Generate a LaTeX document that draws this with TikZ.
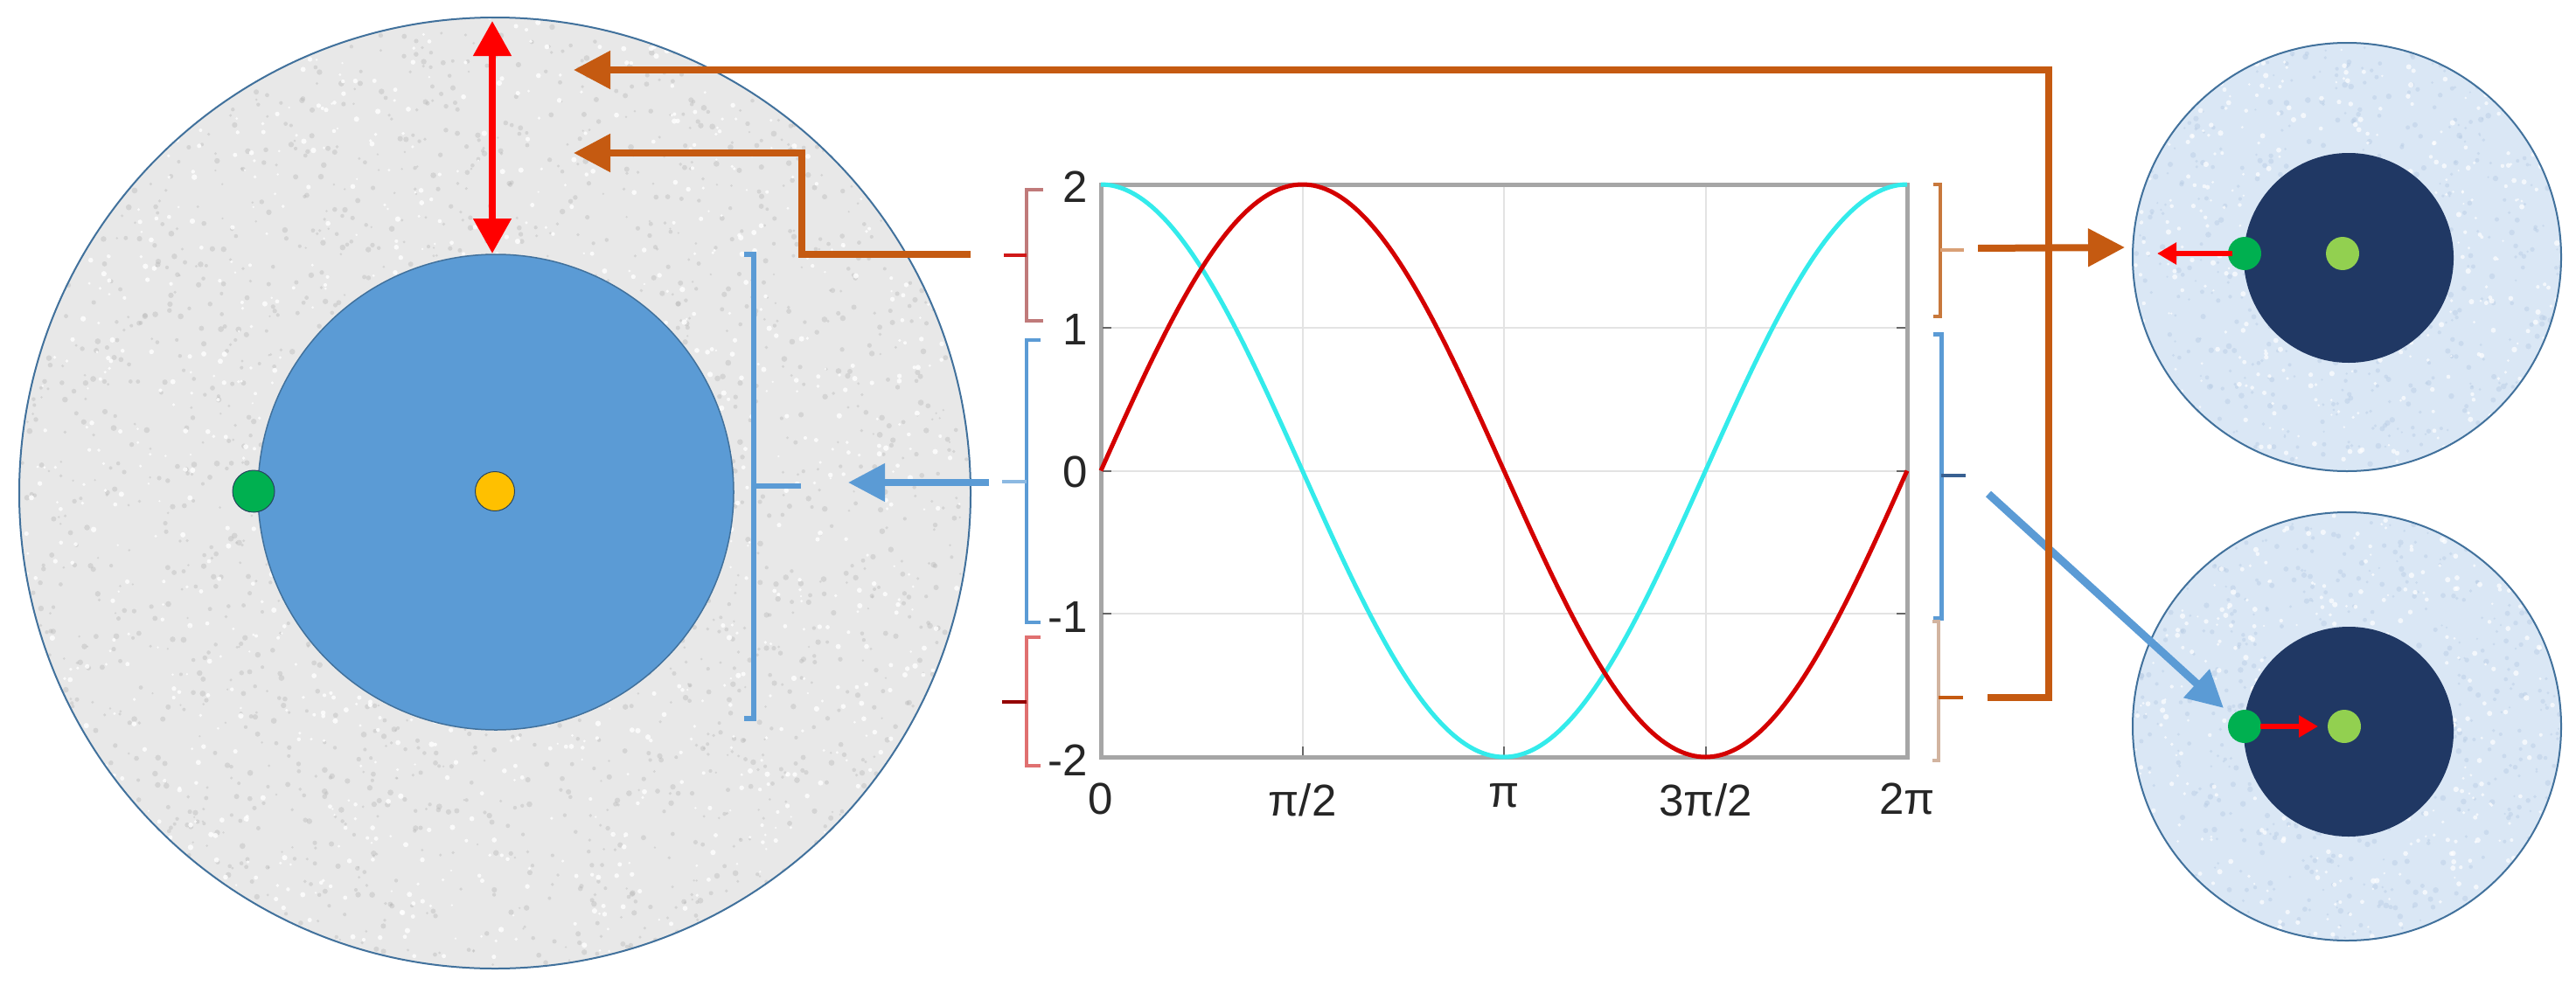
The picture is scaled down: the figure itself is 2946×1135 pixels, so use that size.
\documentclass[tikz,border=0pt]{standalone}
\usepackage{fontspec}
\setmainfont{Liberation Sans}
\usetikzlibrary{arrows.meta}
\definecolor{rimblue}{HTML}{41719C}
\definecolor{fillblue}{HTML}{5B9BD5}
\definecolor{granite}{HTML}{E8E8E8}
\definecolor{speck}{HTML}{B8B8B8}
\definecolor{iceblue}{HTML}{DAE7F5}
\definecolor{icespeck}{HTML}{B7CCE4}
\definecolor{navy}{HTML}{203864}
\definecolor{dotgreen}{HTML}{00B050}
\definecolor{litegreen}{HTML}{92D050}
\definecolor{dotyellow}{HTML}{FFC000}
\definecolor{orangeC}{HTML}{C55A11}
\definecolor{arrowred}{HTML}{FF0000}
\definecolor{plotred}{HTML}{D40000}
\definecolor{plotcyan}{HTML}{33EBEB}
\definecolor{framegray}{HTML}{A6A6A6}
\definecolor{gridgray}{HTML}{E3E3E3}
\definecolor{labelgray}{HTML}{262626}
\definecolor{brRedA}{HTML}{C07A7A}
\definecolor{brRedB}{HTML}{E07070}
\definecolor{brOrange}{HTML}{C8783C}
\definecolor{brTan}{HTML}{D2B4A0}
\begin{document}
\begin{tikzpicture}[x=1pt,y=-1pt,
  disk/.style={circle, inner sep=0pt, outer sep=0pt},
  fatarrow/.style={line width=8pt, -{Triangle[length=42pt,width=42pt]}},
  thinarrow/.style={line width=6pt, draw=arrowred, -{Triangle[length=22pt,width=24pt]}},
  brk/.style={line width=4pt},
  ticklab/.style={font=\fontsize{51}{60}\selectfont, text=labelgray, inner sep=0pt}]
\useasboundingbox (0,0) rectangle (2946,1135);
\pgfmathsetseed{7}

% ---------- left disk ----------
\node[disk, minimum size=1088pt, fill=granite] (bigdisk) at (566,564) {};
\begin{scope}
  \clip (566,564) circle[radius=544];
  \foreach \i in {1,...,2600}
    \fill[speck, opacity=0.4] ({566+544*rand},{564+544*rand}) circle[radius={1.2+2.2*rnd}];
  \foreach \i in {1,...,1400}
    \fill[white, opacity=0.8] ({566+544*rand},{564+544*rand}) circle[radius={1.2+2*rnd}];
\end{scope}
\draw[rimblue, line width=2pt] (566,564) circle[radius=544];
\node[disk, minimum size=544pt, fill=fillblue, draw=rimblue, line width=1.5pt] (core) at (567,563) {};
\node[disk, minimum size=48pt, fill=dotgreen, draw=rimblue!60!black, line width=1pt] (gdot) at (290,562) {};
\node[disk, minimum size=45pt, fill=dotyellow, draw=rimblue!60!black, line width=1pt] (ydot) at (566,562) {};
\coordinate (rtop) at (563,24);
\coordinate (rbot) at (563,290);
\draw[line width=8pt, draw=arrowred, {Triangle[length=40pt,width=42pt]}-{Triangle[length=40pt,width=42pt]}] (rtop) -- (rbot);

% bracket on the disk
\draw[line width=6pt, draw=fillblue] (851,291) -- (862,291) -- (862,822) -- (851,822);
\coordinate (dbmid) at (862,556);
\coordinate (dbtip) at (916,556);
\draw[line width=6pt, draw=fillblue] (dbmid) -- (dbtip);

% ---------- plot ----------
\foreach \xx in {1489.5,1720,1950.5}
  \draw[gridgray, line width=2pt] (\xx,211) -- (\xx,866);
\foreach \yy in {375,538.5,702}
  \draw[gridgray, line width=2pt] (1259,\yy) -- (2181,\yy);
\draw[framegray, line width=5pt] (1259,211) rectangle (2181,866);
\foreach \yy in {375,538.5,702} {
  \draw[labelgray!70, line width=2pt] (1261,\yy) -- (1271,\yy);
  \draw[labelgray!70, line width=2pt] (2179,\yy) -- (2169,\yy);
}
\foreach \xx in {1489.5,1720,1950.5}
  \draw[labelgray!70, line width=2pt] (\xx,864) -- (\xx,854);
\draw[plotcyan, line width=5pt, domain=0:360, samples=145, smooth, variable=\t]
  plot ({1259+\t*2.56111},{538.5-327.5*cos(\t)});
\draw[plotred, line width=5pt, domain=0:360, samples=145, smooth, variable=\t]
  plot ({1259+\t*2.56111},{538.5-327.5*sin(\t)});

\node[ticklab, anchor=east] (ly2) at (1244,214) {2};
\node[ticklab, anchor=east] (ly1) at (1244,377) {1};
\node[ticklab, anchor=east] (ly0) at (1244,540) {0};
\node[ticklab, anchor=east] (lym1) at (1244,706) {-1};
\node[ticklab, anchor=east] (lym2) at (1244,870) {-2};
\node[ticklab, anchor=north] (lx0) at (1259,896) {0};
\node[ticklab, anchor=north] (lx1) at (1489.5,896) {π/2};
\node[ticklab, anchor=north] (lx2) at (1720,896) {π};
\node[ticklab, anchor=north] (lx3) at (1950.5,896) {3π/2};
\node[ticklab, anchor=north] (lx4) at (2181,896) {2π};

% left brackets of the plot
\draw[brk, draw=brRedA] (1193,217) -- (1174,217) -- (1174,367) -- (1193,367);
\coordinate (bl1) at (1174,292);
\draw[brk, draw=plotred!80!brRedA] (bl1) -- (1148,292);
\draw[brk, draw=fillblue] (1190,389) -- (1174,389) -- (1174,712) -- (1190,712);
\coordinate (bl2) at (1174,551);
\coordinate (bl2e) at (1146,551);
\draw[brk, draw=fillblue!70] (bl2) -- (bl2e);
\draw[brk, draw=brRedB] (1190,729) -- (1174,729) -- (1174,876) -- (1190,876);
\coordinate (bl3) at (1174,803);
\draw[brk, draw=plotred!70!black] (bl3) -- (1146,803);

% right brackets of the plot
\draw[brk, draw=brOrange] (2211,211) -- (2219,211) -- (2219,362) -- (2211,362);
\coordinate (br1) at (2219,286);
\draw[brk, draw=brOrange!70] (br1) -- (2246,286);
\draw[brk, line width=5pt, draw=fillblue] (2211,382) -- (2220,382) -- (2220,707) -- (2211,707);
\coordinate (br2) at (2220,544);
\draw[brk, draw=fillblue!40!navy] (br2) -- (2248,544);
\draw[brk, draw=brTan] (2210,711) -- (2217,711) -- (2217,870) -- (2210,870);
\coordinate (br3) at (2217,798);
\draw[brk, draw=orangeC] (br3) -- (2245,798);

% ---------- right disks ----------
\node[disk, minimum size=490pt, fill=iceblue] (disk1) at (2684,294) {};
\node[disk, minimum size=490pt, fill=iceblue] (disk2) at (2684,831) {};
\begin{scope}
  \clip (2684,294) circle[radius=245] (2684,831) circle[radius=245];
  \foreach \i in {1,...,1400}
    \fill[icespeck, opacity=0.45] ({2684+245*rand},{562+515*rand}) circle[radius={1.2+2.2*rnd}];
  \foreach \i in {1,...,900}
    \fill[white, opacity=0.7] ({2684+245*rand},{562+515*rand}) circle[radius={1.2+2*rnd}];
\end{scope}
\draw[rimblue, line width=2pt] (2684,294) circle[radius=245];
\draw[rimblue, line width=2pt] (2684,831) circle[radius=245];

\node[disk, minimum size=240pt, fill=navy] (core1) at (2686,295) {};
\node[disk, minimum size=38pt, fill=dotgreen] (g1) at (2567,290) {};
\node[disk, minimum width=38pt, minimum height=33pt, fill=litegreen] (l1) at (2679,290) {};
\coordinate (a1s) at (2553,290);
\coordinate (a1e) at (2467,290);
\draw[thinarrow] (a1s) -- (a1e);

\node[disk, minimum size=240pt, fill=navy] (core2) at (2686,837) {};
\node[disk, minimum size=38pt, fill=dotgreen] (g2) at (2567,831) {};
\node[disk, minimum width=38pt, minimum height=33pt, fill=litegreen] (l2) at (2681,831) {};
\coordinate (a2s) at (2585,831);
\coordinate (a2e) at (2651,831);
\draw[thinarrow] (a2s) -- (a2e);

% ---------- connectors ----------
\coordinate (bsrc) at (1131,552);
\coordinate (btgt) at (970,552);
\draw[fatarrow, draw=fillblue] (bsrc) -- (btgt);

\coordinate (dsrc) at (2274,565);
\coordinate (dtgt) at (2543,810);
\draw[fatarrow, line width=9pt, draw=fillblue] (dsrc) -- (dtgt);

\coordinate (o1src) at (1110,291);
\coordinate (o1tgt) at (656,175);
\draw[fatarrow, draw=orangeC] (o1src) -- (917,291) -- (917,175) -- (o1tgt);

\coordinate (o2src) at (2273,798);
\coordinate (o2tgt) at (656,80);
\draw[fatarrow, draw=orangeC] (o2src) -- (2343,798) -- (2343,80) -- (o2tgt);

\coordinate (o3src) at (2262,284);
\coordinate (o3tgt) at (2430,283);
\draw[fatarrow, draw=orangeC] (o3src) -- (o3tgt);
\end{tikzpicture}
\end{document}
